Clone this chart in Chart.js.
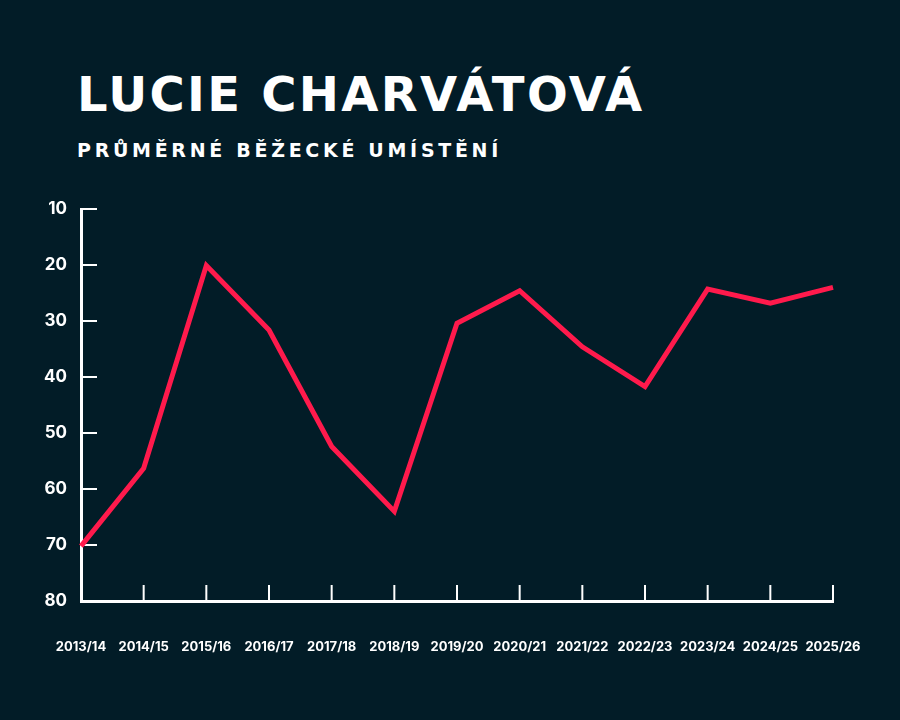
<!DOCTYPE html>
<html>
<head>
<meta charset="utf-8">
<script src="https://cdn.jsdelivr.net/npm/chart.js@4"></script>
<style>
  html, body { margin: 0; padding: 0; background: #021c27; }
  .wrap { position: relative; width: 900px; height: 720px; overflow: hidden; }
  #title {
    position: absolute; left: 77px; top: 70px;
    font-family: "DejaVu Sans", sans-serif; font-weight: bold; font-size: 48px; line-height: 1;
    letter-spacing: 2.3px; color: #fff; white-space: nowrap;
  }
  #subtitle {
    position: absolute; left: 77px; top: 141px;
    font-family: "DejaVu Sans", sans-serif; font-weight: bold; font-size: 19px; line-height: 1;
    letter-spacing: 3.7px; color: #fff; white-space: nowrap;
  }
  canvas { position: absolute; left: 0; top: 0; }
</style>
</head>
<body>
<div class="wrap">
  <div id="title">LUCIE CHARVÁTOVÁ</div>
  <div id="subtitle">PRŮMĚRNÉ BĚŽECKÉ UMÍSTĚNÍ</div>
  <canvas id="chart" width="900" height="720"></canvas>
</div>
<script>
// === Data ===
const seasons = ["2013/14", "2014/15", "2015/16", "2016/17", "2017/18", "2018/19", "2019/20",
  "2020/21", "2021/22", "2022/23", "2023/24", "2024/25", "2025/26"];
const avgPlace = [70.2, 56.3, 20.1, 31.6, 52.4, 64.0, 30.4, 24.6, 34.6, 41.7, 24.3, 26.8, 24.0];
const yTicks = [10, 20, 30, 40, 50, 60, 70, 80];

const WHITE = "#ffffff";
const LINE = "#ff1a4c";

// short tick marks pointing into the plot
const innerTicks = {
  id: "innerTicks",
  beforeDatasetsDraw(chart) {
    const { ctx, chartArea, scales: { x, y } } = chart;
    ctx.save();
    ctx.strokeStyle = WHITE;
    ctx.lineWidth = 2;
    ctx.beginPath();
    y.ticks.forEach((t, i) => {
      const py = y.getPixelForTick(i);
      ctx.moveTo(chartArea.left, py);
      ctx.lineTo(chartArea.left + 16, py);
    });
    x.ticks.forEach((t, i) => {
      const px = x.getPixelForTick(i);
      ctx.moveTo(px, chartArea.bottom);
      ctx.lineTo(px, chartArea.bottom - 16);
    });
    ctx.stroke();
    ctx.restore();
  }
};

new Chart(document.getElementById("chart"), {
  type: "line",
  data: {
    labels: seasons,
    datasets: [{
      data: avgPlace,
      borderColor: LINE,
      borderWidth: 5,
      pointRadius: 0,
      tension: 0,
      borderJoinStyle: "miter"
    }]
  },
  options: {
    responsive: false,
    animation: false,
    layout: { padding: { left: 20, right: 67, top: 209, bottom: 59 } },
    plugins: { legend: { display: false }, tooltip: { enabled: false } },
    scales: {
      x: {
        offset: false,
        grid: { display: false },
        border: { display: true, color: WHITE, width: 3 },
        ticks: {
          color: WHITE, padding: 30, maxRotation: 0, autoSkip: false,
          font: { family: "Inter, sans-serif", size: 13, weight: "bold" }
        },
        afterFit(scale) { scale.height = 60; }
      },
      y: {
        reverse: true,
        min: yTicks[0],
        max: yTicks[yTicks.length - 1],
        grid: { display: false },
        border: { display: true, color: WHITE, width: 3 },
        afterBuildTicks(scale) { scale.ticks = yTicks.map(v => ({ value: v })); },
        ticks: {
          color: WHITE, padding: 6,
          font: { family: "Inter, sans-serif", size: 17, weight: "bold" }
        },
        afterFit(scale) { scale.width = 61; }
      }
    }
  },
  plugins: [innerTicks]
});
</script>
</body>
</html>
